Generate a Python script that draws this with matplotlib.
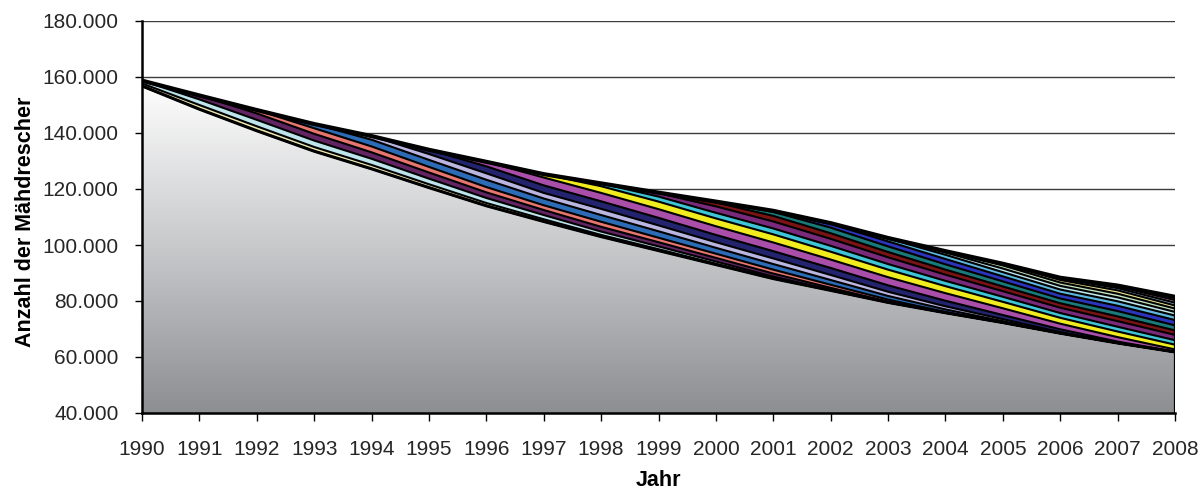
import numpy as np
import matplotlib
matplotlib.use("Agg")
import matplotlib.pyplot as plt
from matplotlib.patches import Polygon
from matplotlib.ticker import FuncFormatter
from matplotlib.colors import LinearSegmentedColormap

plt.rcParams["font.family"] = ["Liberation Sans", "DejaVu Sans"]

years = list(range(1990, 2009))

# Base series (thousand machines), drawn with a vertical grey gradient
basis = [156.8, 148.5, 140.8, 133.5, 127.2, 120.5, 114.0, 108.4, 103.0, 98.0,
         93.0, 88.0, 83.8, 79.5, 75.8, 72.3, 68.5, 65.0, 61.8]

# Stacked layers on top of the base (thousand machines)
band_01 = [0.9, 1.5, 1.6, 1.5, 1.4, 1.2, 1.0, 0.8, 0.6, 0.5, 0.3, 0.1, 0, 0, 0, 0, 0, 0, 0]
band_02 = [1.0, 2.0, 2.3, 2.3, 2.2, 2.0, 1.8, 1.5, 1.2, 1.0, 0.8, 0.6, 0.2, 0, 0, 0, 0, 0, 0]
band_03 = [0, 1.4, 2.3, 2.4, 2.3, 2.2, 2.0, 1.8, 1.7, 1.5, 1.3, 1.1, 0.7, 0.3, 0, 0, 0, 0, 0]
band_04 = [0, 0, 1.2, 2.0, 2.1, 2.0, 1.9, 1.7, 1.8, 1.6, 1.5, 1.4, 1.1, 0.7, 0.3, 0, 0, 0, 0]
band_05 = [0, 0, 0, 1.5, 2.4, 2.5, 2.6, 2.4, 2.4, 2.3, 2.1, 2.0, 1.7, 1.3, 0.9, 0.5, 0.1, 0, 0]
band_06 = [0, 0, 0, 0, 1.3, 2.1, 2.3, 2.0, 2.2, 2.1, 2.0, 2.0, 1.8, 1.5, 1.1, 0.7, 0.3, 0.1, 0]
band_07 = [0, 0, 0, 0, 0, 1.5, 2.5, 2.7, 2.7, 2.7, 2.6, 2.6, 2.5, 2.3, 2.0, 1.5, 1.0, 0.4, 0.1]
band_08 = [0, 0, 0, 0, 0, 0, 1.6, 2.8, 3.0, 3.1, 3.1, 3.1, 3.0, 2.9, 2.7, 2.4, 2.0, 1.6, 0.8]
band_09 = [0, 0, 0, 0, 0, 0, 0, 1.2, 2.4, 2.7, 2.8, 2.9, 2.8, 2.7, 2.5, 2.3, 2.1, 2.0, 1.7]
band_10 = [0, 0, 0, 0, 0, 0, 0, 0, 1.0, 1.8, 2.0, 2.1, 2.1, 2.0, 1.9, 1.8, 1.7, 1.7, 1.6]
band_11 = [0, 0, 0, 0, 0, 0, 0, 0, 0, 1.2, 2.3, 2.5, 2.5, 2.4, 2.2, 2.0, 1.9, 2.0, 1.9]
band_12 = [0, 0, 0, 0, 0, 0, 0, 0, 0, 0.2, 1.4, 2.0, 2.0, 1.9, 1.8, 1.7, 1.6, 1.7, 1.6]
band_13 = [0, 0, 0, 0, 0, 0, 0, 0, 0, 0, 0.3, 1.4, 2.0, 2.0, 1.9, 1.8, 1.7, 1.9, 1.8]
band_14 = [0, 0, 0, 0, 0, 0, 0, 0, 0, 0, 0, 0.4, 1.3, 1.8, 1.9, 1.8, 1.7, 1.9, 1.9]
band_15 = [0, 0, 0, 0, 0, 0, 0, 0, 0, 0, 0, 0, 0.3, 1.0, 1.5, 1.5, 1.5, 1.6, 1.6]
band_16 = [0, 0, 0, 0, 0, 0, 0, 0, 0, 0, 0, 0, 0, 0.2, 0.8, 1.3, 1.3, 1.4, 1.3]
band_17 = [0, 0, 0, 0, 0, 0, 0, 0, 0, 0, 0, 0, 0, 0, 0.5, 1.1, 1.2, 1.3, 1.2]
band_18 = [0, 0, 0, 0, 0, 0, 0, 0, 0, 0, 0, 0, 0, 0, 0, 0.6, 0.9, 1.2, 1.1]
band_19 = [0, 0, 0, 0, 0, 0, 0, 0, 0, 0, 0, 0, 0, 0, 0, 0, 0.5, 0.8, 1.0]
band_20 = [0, 0, 0, 0, 0, 0, 0, 0, 0, 0, 0, 0, 0, 0, 0, 0, 0.3, 0.6, 0.9]
band_21 = [0, 0, 0, 0, 0, 0, 0, 0, 0, 0, 0, 0, 0, 0, 0, 0, 0, 0.3, 0.7]
band_22 = [0, 0, 0, 0, 0, 0, 0, 0, 0, 0, 0, 0, 0, 0, 0, 0, 0, 0, 0.5]

band_colors = [
    "#ECE8B0", "#BEE4EC", "#632463", "#E6766E", "#2C6CB6", "#BAB6E2",
    "#23236E", "#A94FA9", "#F0EC1E", "#3EC6D6", "#7A2A7A", "#7A1414",
    "#1A7A7A", "#2C34BC", "#5CB8E0", "#BEE8EC", "#C2E6C2", "#ECE894",
    "#92B8E0", "#E6A2C2", "#B8A2E0", "#E6C294",
]

bands = [band_01, band_02, band_03, band_04, band_05, band_06, band_07, band_08,
         band_09, band_10, band_11, band_12, band_13, band_14, band_15, band_16,
         band_17, band_18, band_19, band_20, band_21, band_22]

y_ticks = [40, 60, 80, 100, 120, 140, 160, 180]
scale = 1000

fig = plt.figure(figsize=(12.02, 4.95), dpi=100)
ax = fig.add_axes([142 / 1202, 1 - 413 / 495, 1033 / 1202, 392 / 495])

x = np.array(years, dtype=float)
y_floor = y_ticks[0] * scale
base = np.array(basis) * scale

# gradient-filled base area
verts = [(x[0], y_floor)] + list(zip(x, base)) + [(x[-1], y_floor)]
clip = Polygon(verts, closed=True, facecolor="none", edgecolor="none",
               transform=ax.transData)
ax.add_patch(clip)
grad = np.linspace(0, 1, 256).reshape(-1, 1)
cmap = LinearSegmentedColormap.from_list("base_grad", ["#8d8e92", "#c7c8ca", "#fdfdfd"])
im = ax.imshow(grad, extent=[x[0], x[-1], y_floor, base.max()], origin="lower",
               aspect="auto", cmap=cmap, zorder=2, interpolation="bilinear")
im.set_clip_path(clip)

# stacked layers
levels = [base]
lower = base.copy()
for vals, col in zip(bands, band_colors):
    upper = lower + np.array(vals) * scale
    ax.fill_between(x, lower, upper, facecolor=col, edgecolor="none", lw=0, zorder=3)
    levels.append(upper)
    lower = upper

for lev in levels:
    ax.plot(x, lev, color="black", lw=1.5, zorder=4, solid_joinstyle="round")
ax.plot(x, levels[0], color="black", lw=2.2, zorder=4, solid_joinstyle="round")
ax.plot(x, levels[-1], color="black", lw=3.0, zorder=4, solid_joinstyle="round")
ax.plot([x[-1], x[-1]], [y_floor, levels[-1][-1]], color="black", lw=1.6, zorder=4)

ax.set_xlim(x[0], x[-1])
ax.set_ylim(y_ticks[0] * scale, y_ticks[-1] * scale)

ax.set_yticks([t * scale for t in y_ticks])
ax.yaxis.set_major_formatter(FuncFormatter(lambda v, p: f"{int(round(v)):,}".replace(",", ".")))
ax.set_xticks(years)
ax.set_xticklabels([str(y) for y in years])

ax.yaxis.grid(True, color="#3c3c3c", lw=1.0)
ax.set_axisbelow(True)

for s in ("top", "right"):
    ax.spines[s].set_visible(False)
for s in ("left", "bottom"):
    ax.spines[s].set_color("black")
    ax.spines[s].set_linewidth(1.8)
    ax.spines[s].set_zorder(5)

ax.tick_params(axis="y", direction="out", length=5, width=1, color="black",
               labelsize=15, labelcolor="#262626", pad=12)
ax.tick_params(axis="x", direction="out", length=6, width=1, color="black",
               labelsize=15, labelcolor="#262626", pad=13.5)

fig.text(26 / 1202, 1 - 222 / 495, "Anzahl der Mähdrescher", rotation=90,
         ha="center", va="center", fontsize=15.5, fontweight="bold")
fig.text(658 / 1202, 1 - 480 / 495, "Jahr", ha="center", va="center",
         fontsize=15.5, fontweight="bold")

fig.savefig("out.png", dpi=100)
